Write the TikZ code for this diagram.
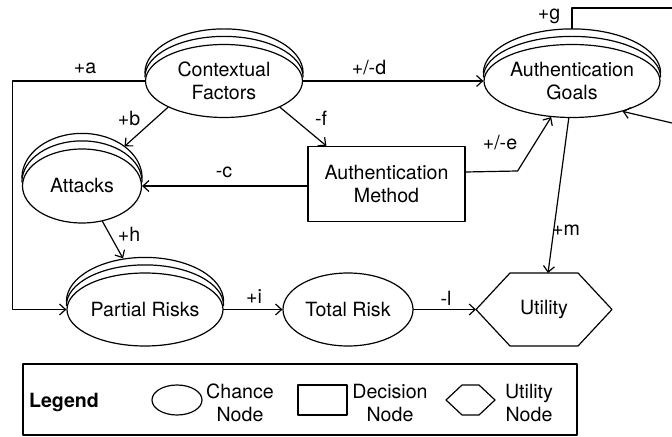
\documentclass[tikz,border=0pt]{standalone}
\usepackage{fontspec}
\setmainfont{TeX Gyre Heros}
\usetikzlibrary{shapes.geometric}
\usetikzlibrary{arrows.meta,calc}
\tikzstyle{every node}=[font=\fontsize{9.8}{11.2}\selectfont]
\tikzstyle{every path}=[line width=0.6pt,line cap=round,line join=round]
\tikzstyle{chance}=[draw,ellipse,inner sep=0pt,align=center]
\tikzstyle{decision}=[draw,rectangle,inner sep=0pt,align=center]
\tikzstyle{util}=[rectangle,inner sep=0pt,outer sep=0pt,align=center]
\tikzstyle{lbl}=[inner sep=0pt]
\tikzstyle{arr}=[-{Straight Barb[length=3pt,width=5.5pt]}]

\begin{document}
\begin{tikzpicture}\begin{scope}[x=0.5pt,y=-0.5pt]
\useasboundingbox (0,0) rectangle (672,437);
% nodes
\node[chance,minimum width=78.5pt,minimum height=36.5pt] (ctx) at (224,81) {Contextual\\Factors};
\node[chance,minimum width=88pt,minimum height=36.5pt] (goals) at (572,81) {Authentication\\Goals};
\node[chance,minimum width=59.5pt,minimum height=37pt] (attacks) at (82,186) {Attacks};
\node[decision,minimum width=78.5pt,minimum height=37.5pt] (method) at (386.5,184) {Authentication\\Method};
\node[chance,minimum width=78pt,minimum height=36.5pt] (partial) at (145,309.5) {Partial Risks};
\node[chance,minimum width=65pt,minimum height=36.5pt] (total) at (348,309.5) {Total Risk};
\node[util,minimum width=68pt,minimum height=36.5pt] (utility) at (544,309.5) {Utility};
% stacked chance nodes
\foreach \nd in {ctx,goals,attacks,partial}
  \foreach \k in {1,2}
    \draw let \p1=(\nd.west), \p2=(\nd.north), \p3=(\nd.center) in
      (\x1,\y3+\k*2pt) arc[start angle=180,end angle=0,x radius=\x3-\x1,y radius=\y2-\y3+\k*1.75pt];
\draw (utility.west) -- ($(utility.north west)+(34,0)$) -- ($(utility.north east)+(-34,0)$)
  -- (utility.east) -- ($(utility.south east)+(-34,0)$) -- ($(utility.south west)+(34,0)$) -- cycle;
% links
\coordinate (gout) at (672,8);
\coordinate (gin) at (672,123);
\draw[arr] (ctx.west) -- ++(-132.5,0) |- (partial.west);
\draw[arr] (ctx.east) -- (goals.west);
\draw[arr] (ctx.south west) -- ($(attacks.north east)+(0,-13)$);
\draw[arr] (ctx.south east) -- ($(method.north west)+(19,0)$);
\draw[arr] (method.west |- attacks.east) -- (attacks.east);
\draw[arr] ($(method.east)+(0,-12)$) -- ++(52,-1) -- (goals.240);
\draw ($(goals.north)+(0,-15)$) |- (gout);
\draw[arr] (gin) -- (goals.329);
\draw[arr] (goals.265) -- ($(utility.north)+(4,0)$);
\draw[arr] (attacks.300) -- ($(partial.north)+(-22,-14)$);
\draw[arr] (partial.east) -- (total.west);
\draw[arr] (total.east) -- (utility.west);
\node[lbl] (la) at (85,68) {+a};
\node[lbl] (lb) at (129,119) {+b};
\node[lbl] (lc) at (224,172) {-c};
\node[lbl] (ld) at (369,68) {+/-d};
\node[lbl] (le) at (500,143) {+/-e};
\node[lbl] (lf) at (321,118) {-f};
\node[lbl] (lg) at (549,16) {+g};
\node[lbl] (lh) at (129,234) {+h};
\node[lbl] (li) at (254,297) {+i};
\node[lbl] (ll) at (446,298) {-l};
\node[lbl] (lm) at (566,230) {+m};
% legend
\node[draw,rectangle,minimum width=277pt,minimum height=35.5pt] (key) at (300,399.5) {};
\node[lbl] (keytitle) at (64,402) {\bfseries Legend};
\node[chance,minimum width=25pt,minimum height=15pt] (keyell) at (177,400) {};
\node[decision,minimum width=24.5pt,minimum height=15pt] (keyrect) at (322.5,400) {};
\node[util,minimum width=24.5pt,minimum height=15pt] (keyhex) at (470.5,400) {};
\draw (keyhex.west) -- ($(keyhex.north west)+(16,0)$) -- ($(keyhex.north east)+(-16,0)$)
  -- (keyhex.east) -- ($(keyhex.south east)+(-16,0)$) -- ($(keyhex.south west)+(16,0)$) -- cycle;
\node[lbl,align=center] (keychance) at (240,403) {Chance\\Node};
\node[lbl,align=center] (keydec) at (390,403) {Decision\\Node};
\node[lbl,align=center] (keyutil) at (529,403) {Utility\\Node};
\end{scope}\end{tikzpicture}
\end{document}
